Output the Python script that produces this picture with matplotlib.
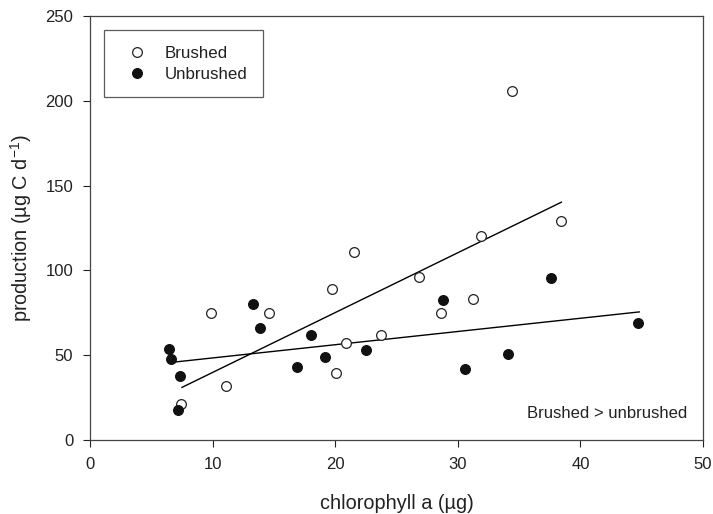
import matplotlib
matplotlib.use("Agg")
import matplotlib.pyplot as plt

plt.rcParams['font.family'] = ['Liberation Sans', 'DejaVu Sans']

brushed_x = [7.45, 9.9, 11.1, 14.6, 19.7, 20.1, 20.9, 21.5, 23.7, 26.8, 28.6, 31.2, 31.9, 34.4, 38.45]
brushed_y = [21, 74.7, 31.8, 75, 89, 39.6, 56.9, 110.6, 61.6, 96, 75.1, 83.1, 120, 205.5, 129]

unbrushed_x = [6.47, 6.58, 7.37, 7.15, 13.26, 13.9, 16.9, 18.0, 19.2, 22.5, 28.8, 30.6, 34.1, 37.6, 44.7]
unbrushed_y = [53.7, 47.6, 37.8, 17.6, 80.4, 66, 43.1, 62, 49, 53, 82.5, 42, 50.4, 95.7, 68.8]

brushed_fit_x = [7.5, 38.45]
brushed_fit_y = [31, 140.2]
unbrushed_fit_x = [6.96, 44.8]
unbrushed_fit_y = [46, 75.5]

x_ticks = [0, 10, 20, 30, 40, 50]
y_ticks = [0, 50, 100, 150, 200, 250]

fig = plt.figure(figsize=(7.13, 5.14), dpi=100)
ax = fig.add_axes([0.1262, 0.144, 0.986 - 0.1262, 0.969 - 0.144])

ax.plot(brushed_fit_x, brushed_fit_y, color='black', lw=1.0, zorder=2)
ax.plot(unbrushed_fit_x, unbrushed_fit_y, color='black', lw=1.0, zorder=2)

ax.plot(brushed_x, brushed_y, 'o', ms=7.0, mfc='white', mec='#222222', mew=0.9, zorder=3, label='Brushed')
ax.plot(unbrushed_x, unbrushed_y, 'o', ms=7.0, mfc='#111111', mec='#111111', mew=0.9, zorder=3, label='Unbrushed')

ax.set_xlim(0, 50)
ax.set_ylim(0, 250)
ax.set_xticks(x_ticks)
ax.set_yticks(y_ticks)
ax.tick_params(direction='out', length=5, width=0.8, labelsize=12, colors='#222222', pad=7)
for s in ax.spines.values():
    s.set_linewidth(0.9)
    s.set_color('#444444')

ax.set_xlabel('chlorophyll a (\u00b5g)', fontsize=14.3, color='#222222', labelpad=16)
ax.set_ylabel('production (\u00b5g C d$^{\\mathregular{-1}}$)', fontsize=14.3, color='#222222', labelpad=8)

leg = ax.legend(loc='upper left', bbox_to_anchor=(0.0225, 0.966), frameon=True, fancybox=False,
                edgecolor='#333333', fontsize=12.2, handletextpad=0.6, borderpad=0.9,
                labelspacing=0.35, handlelength=2.1, borderaxespad=0)
leg.get_frame().set_linewidth(0.9)
for t in leg.get_texts():
    t.set_color('#222222')

ax.text(0.975, 0.063, 'Brushed > unbrushed', transform=ax.transAxes, ha='right', va='center',
        fontsize=12, color='#222222')

fig.savefig('out.png', dpi=100)
